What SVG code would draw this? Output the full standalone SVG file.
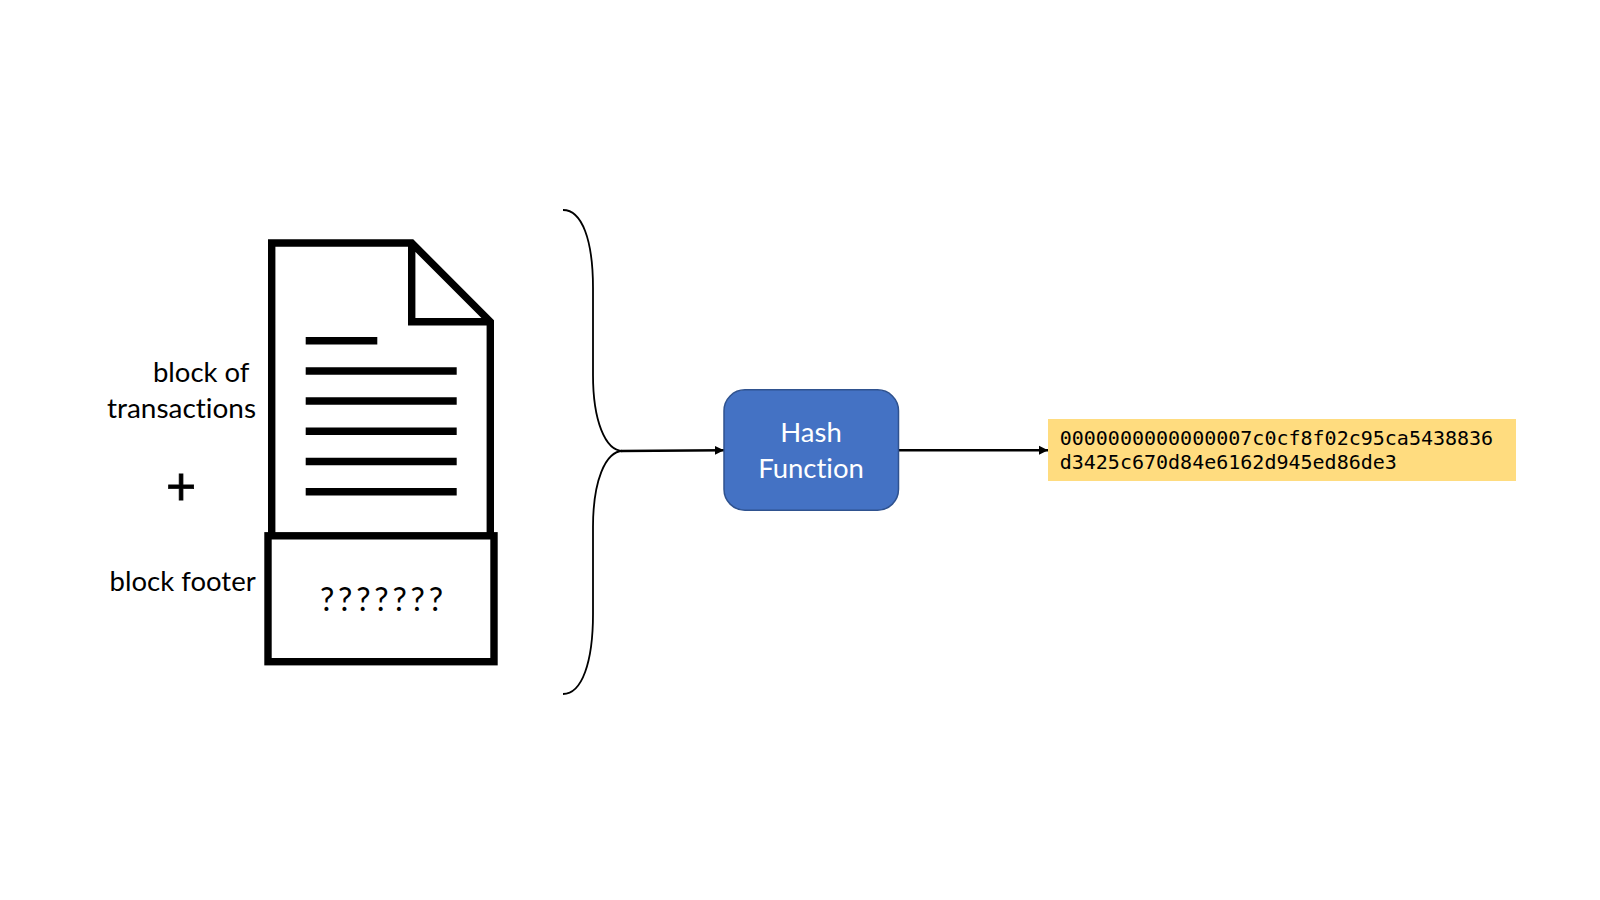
<svg xmlns="http://www.w3.org/2000/svg" width="1600" height="900" viewBox="0 0 1600 900">
<defs>
<style>
.ink{fill:none;stroke:#000;stroke-width:7.400;stroke-miterlimit:10}
.row{stroke:#000;stroke-width:7.400}
.lbl{font-family:"Lato","Liberation Sans",sans-serif;font-size:27.500px;fill:#000;font-variant-ligatures:none}
.mono{font-family:"DejaVu Sans Mono","Liberation Mono",monospace;font-size:20px;fill:#000}
.wire{fill:none;stroke:#000;stroke-width:2.600}
.brace{fill:none;stroke:#000;stroke-width:1.800}
</style>
<marker id="tip" markerUnits="userSpaceOnUse" markerWidth="10" markerHeight="10" refX="9" refY="5" orient="auto"><path d="M0 .5L9 5L0 9.500Z" fill="#000"/></marker>
</defs>
<rect width="1600" height="900" fill="#fff"/>
<g id="connectors">
<path class="brace" d="M563 210C582 210 593 240 593 288V375C593 420 605 451 623 451C605 451 593 482 593 527V614C593 662 582 694 563 694"/>
<path class="wire" marker-end="url(#tip)" d="M621 451L724 450.300"/>
<path class="wire" marker-end="url(#tip)" d="M898.500 450.300H1048"/>
</g>
<g id="document">
<path class="ink" d="M271.700 535V243H411.700L490.300 321.700V535M411.700 243V321.700H490.300"/>
<line class="row" x1="305.700" y1="340.700" x2="377.300" y2="340.700"/>
<line class="row" x1="305.700" y1="371" x2="456.700" y2="371"/>
<line class="row" x1="305.700" y1="401" x2="456.700" y2="401"/>
<line class="row" x1="305.700" y1="431.300" x2="456.700" y2="431.300"/>
<line class="row" x1="305.700" y1="461.500" x2="456.700" y2="461.500"/>
<line class="row" x1="305.700" y1="491.700" x2="456.700" y2="491.700"/>
</g>
<g id="footer">
<rect class="ink" x="268" y="535.800" width="226" height="125.900"/>
<text class="lbl" x="320" y="610.500" textLength="123" style="font-size:32px">???????</text>
</g>
<g id="labels">
<text class="lbl" x="249.500" y="381.700" text-anchor="end">block of</text>
<text class="lbl" x="256" y="417.700" textLength="149" lengthAdjust="spacingAndGlyphs" text-anchor="end">transactions</text>
<text class="lbl" x="181" y="505" text-anchor="middle" stroke="#000" stroke-width=".8" style="font-size:52px">+</text>
<text class="lbl" x="255.700" y="591" text-anchor="end">block footer</text>
</g>
<g id="hash">
<rect x="724" y="389.800" width="174.500" height="120.500" rx="21" fill="#4472C4" stroke="#2F528F" stroke-width="1.500"/>
<text class="lbl" x="811" y="441.700" text-anchor="middle" style="fill:#fff">Hash</text>
<text class="lbl" x="811" y="478" text-anchor="middle" style="fill:#fff">Function</text>
</g>
<g id="digest">
<rect x="1048" y="419" width="468" height="62" fill="#FFDC7F"/>
<text class="mono" x="1059.700" y="444.800">0000000000000007c0cf8f02c95ca5438836</text>
<text class="mono" x="1059.700" y="469">d3425c670d84e6162d945ed86de3</text>
</g>
</svg>
